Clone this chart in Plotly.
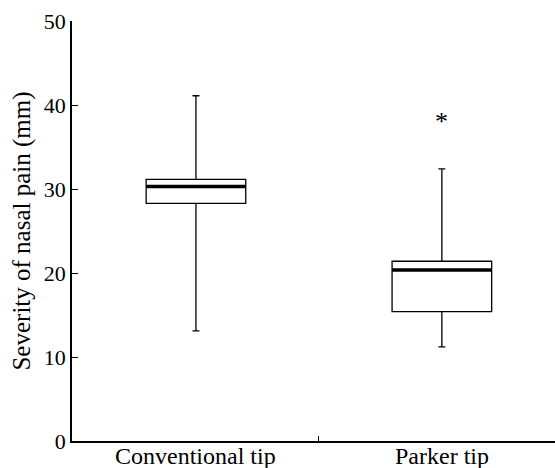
import plotly.graph_objects as go

categories = ["Conventional tip", "Parker tip"]
lower_whisker = [13.1, 11.2]
q1_values = [28.3, 15.4]
median_values = [30.3, 20.35]
q3_values = [31.15, 21.4]
upper_whisker = [41.1, 32.4]
outlier_cats = ["Parker tip"]
outlier_values = [38.6]

y_ticks = [0, 10, 20, 30, 40, 50]

BOX_W = 0.405
SERIF = "'Times New Roman', 'Liberation Serif', Times, serif"

fig = go.Figure()

fig.add_trace(go.Box(
    x=categories,
    q1=q1_values,
    median=median_values,
    q3=q3_values,
    lowerfence=lower_whisker,
    upperfence=upper_whisker,
    boxpoints=False,
    width=BOX_W,
    whiskerwidth=0.07,
    fillcolor="white",
    line=dict(color="black", width=1.3),
    showlegend=False,
    hoverinfo="skip",
))

# outlier drawn as an asterisk glyph, vertically centred on its value
for c, v in zip(outlier_cats, outlier_values):
    fig.add_annotation(x=c, xref="x", y=v, yref="y", text="*",
                       showarrow=False, yanchor="middle", yshift=-5,
                       font=dict(family=SERIF, size=26, color="black"))

# thick median bars spanning each box
for i, m in enumerate(median_values):
    fig.add_shape(type="line", xref="x", yref="y",
                  x0=i - BOX_W / 2, x1=i + BOX_W / 2, y0=m, y1=m,
                  line=dict(color="black", width=3.5))

# category labels below the axis
for c in categories:
    fig.add_annotation(x=c, xref="x", y=0, yref="paper", text=c,
                       showarrow=False, yanchor="middle", yshift=-15,
                       font=dict(family=SERIF, size=24, color="black"))

fig.update_layout(
    width=555, height=468,
    margin=dict(l=72, r=0, t=21, b=27),
    paper_bgcolor="white", plot_bgcolor="white",
    font=dict(family=SERIF, size=20, color="black"),
    xaxis=dict(
        type="category",
        range=[-0.504, 1.46],
        showline=True, linecolor="black", linewidth=1.5,
        ticks="inside", tickson="boundaries", ticklen=5, tickcolor="black", tickwidth=1.2,
        showgrid=False, zeroline=False, automargin=False,
        showticklabels=False,
    ),
    yaxis=dict(
        range=[0, 50],
        tickvals=y_ticks,
        showline=True, linecolor="black", linewidth=1.5,
        ticks="inside", ticklen=6, tickcolor="black", tickwidth=1.2,
        showgrid=False, zeroline=False, automargin=False,
        tickfont=dict(family=SERIF, size=22),
        title=dict(text="Severity of nasal pain (mm)", font=dict(family=SERIF, size=25), standoff=6),
    ),
)

fig.write_html("out.html", config={"displayModeBar": False},
               post_script="document.body.style.margin='0';")
